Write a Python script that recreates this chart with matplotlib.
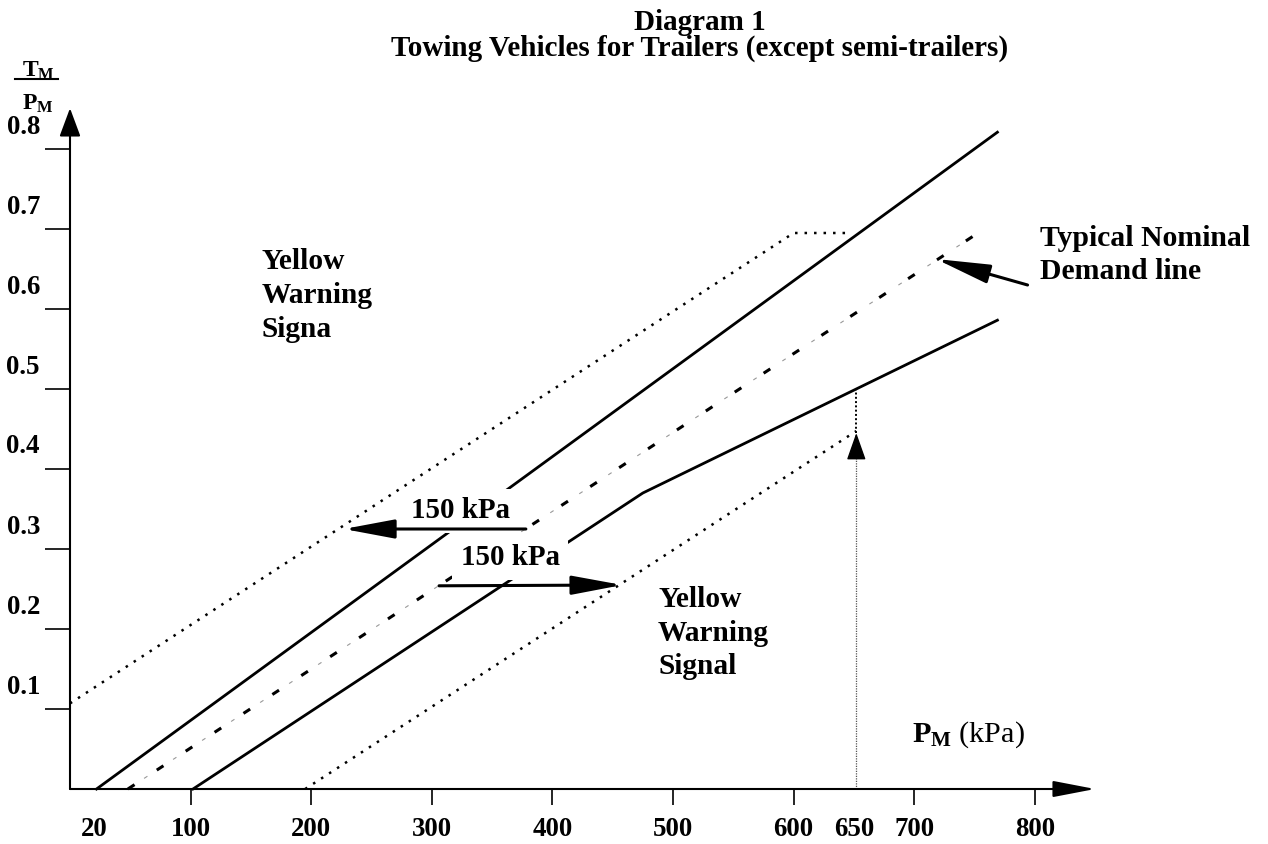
import matplotlib
matplotlib.use("Agg")
import matplotlib.pyplot as plt

plt.rcParams['font.family'] = ['Liberation Serif', 'DejaVu Serif']
plt.rcParams['mathtext.fontset'] = 'custom'
plt.rcParams['mathtext.rm'] = 'Liberation Serif'
plt.rcParams['mathtext.bf'] = 'Liberation Serif:bold'
plt.rcParams['mathtext.it'] = 'Liberation Serif:italic'

# ---------------- data (kPa, T_M/P_M ratio) ----------------
pm_ticks = [100, 200, 300, 400, 500, 600, 700, 800]
pm_labels = [20, 100, 200, 300, 400, 500, 600, 650, 700, 800]
ratio_ticks = [0.1, 0.2, 0.3, 0.4, 0.5, 0.6, 0.7, 0.8]
ratio_labels = ["0.1", "0.2", "0.3", "0.4", "0.5", "0.6", "0.7", "0.8"]

upper_solid_p = [22, 769]
upper_solid_r = [0.0, 0.821]
lower_solid_p = [102, 475, 769]
lower_solid_r = [0.0, 0.37, 0.586]
nominal_p = [48, 758]
nominal_r = [0.0, 0.70]
upper_dot_p = [0, 600, 648]
upper_dot_r = [0.107, 0.695, 0.695]
lower_dot_p = [195, 652]
lower_dot_r = [0.0, 0.4475]

marker_p = 652
marker_shaft_r = [0.0, 0.415]
marker_tip_r = 0.445
marker_top_r = 0.50

shift_left_from = (378, 0.325)
shift_left_to = (227, 0.325)
shift_right_from = (306, 0.254)
shift_right_to = (458, 0.255)
nominal_arrow_from = (794, 0.63)
nominal_arrow_to = (718, 0.6625)

x_axis_end = 850
y_axis_end = 0.851

# ---------------- figure ----------------
W, H = 1268, 844
fig = plt.figure(figsize=(W / 100, H / 100), dpi=100)
ax = fig.add_axes([0, 0, 1, 1])
# pixel layout: origin at (70, 789), 1.206 px per kPa, 800 px per unit ratio
ax.set_xlim((0 - 70) / 1.206, (W - 70) / 1.206)
ax.set_ylim((789 - H) / 800, 789 / 800)
for s in ax.spines.values():
    s.set_visible(False)
ax.spines['left'].set_position(('data', 0))
ax.spines['bottom'].set_position(('data', 0))
ax.set_xticks(pm_ticks)
ax.set_yticks(ratio_ticks)
ax.tick_params(axis='x', direction='out', length=11.5, width=1.2, labelbottom=False)
ax.tick_params(axis='y', direction='out', length=18, width=1.2, labelleft=False)

# axes with arrow heads
ax.annotate('', xy=(x_axis_end, 0), xytext=(0, 0),
            arrowprops=dict(arrowstyle='-|>,head_length=2.6,head_width=0.5',
                            mutation_scale=10, lw=1.5, color='black',
                            shrinkA=0, shrinkB=0), zorder=5)
ax.annotate('', xy=(0, y_axis_end), xytext=(0, 0),
            arrowprops=dict(arrowstyle='-|>,head_length=1.75,head_width=0.65',
                            mutation_scale=10, lw=1.5, color='black',
                            shrinkA=0, shrinkB=0), zorder=5)

# tick labels
bold = dict(fontweight='bold', color='black')
for v in pm_labels:
    ax.text(v, -0.05, str(v), ha='center', va='center', fontsize=19.4, **bold)
for v, lab in zip(ratio_ticks, ratio_labels):
    ax.text(-24.9, v + 0.0275, lab, ha='right', va='center', fontsize=19.4, **bold)

# lines
ax.plot(upper_solid_p, upper_solid_r, color='black', lw=2.0, zorder=2)
ax.plot(lower_solid_p, lower_solid_r, color='black', lw=2.0, zorder=2)
ax.plot(nominal_p, nominal_r, color='black', lw=2.2, ls=(0, (2.6, 8.7)), zorder=2)
ax.plot(nominal_p, nominal_r, color='#999999', lw=0.8, ls=(13.8, (3.6, 27.6)), zorder=2)
ax.plot(upper_dot_p, upper_dot_r, color='black', lw=1.8, ls=(0, (1, 2.8)), zorder=2)
ax.plot(lower_dot_p, lower_dot_r, color='black', lw=1.8, ls=(0, (1, 2.8)), zorder=2)

# 650 kPa marker
ax.plot([marker_p, marker_p], marker_shaft_r, color='#555555', lw=0.9, ls=(0, (1, 1)), zorder=2)
ax.plot([marker_p, marker_p], [marker_tip_r, marker_top_r], color='black', lw=1.4, ls=(0, (1, 1.2)), zorder=2)
ax.annotate('', xy=(marker_p, marker_tip_r), xytext=(marker_p, marker_shaft_r[1]),
            arrowprops=dict(arrowstyle='-|>,head_length=1.7,head_width=0.6',
                            mutation_scale=10, lw=1.0, color='black',
                            shrinkA=0, shrinkB=0), zorder=5)

# 150 kPa shift arrows and labels
for a, b in [(shift_left_from, shift_left_to), (shift_right_from, shift_right_to)]:
    ax.annotate('', xy=b, xytext=a,
                arrowprops=dict(arrowstyle='-|>,head_length=3.1,head_width=0.58',
                                mutation_scale=10, lw=2.2, color='black',
                                shrinkA=0, shrinkB=0), zorder=6)
box = dict(facecolor='white', edgecolor='none', boxstyle='square,pad=0.3')
ax.text(324, 0.3475, '150 kPa', ha='center', va='center', fontsize=20.9, bbox=box, zorder=4, **bold)
ax.text(365, 0.289, '150 kPa', ha='center', va='center', fontsize=20.9, bbox=box, zorder=4, **bold)

# nominal demand arrow
ax.annotate('', xy=nominal_arrow_to, xytext=nominal_arrow_from,
            arrowprops=dict(arrowstyle='-|>,head_length=3.3,head_width=0.58',
                            mutation_scale=10, lw=2.2, color='black',
                            shrinkA=0, shrinkB=0), zorder=6)

# annotations
ax.text(804, 0.705, 'Typical Nominal\nDemand line', ha='left', va='top',
        fontsize=21.4, linespacing=1.27, **bold)
ax.text(159, 0.676, 'Yellow\nWarning\nSigna', ha='left', va='top',
        fontsize=21.2, linespacing=1.32, **bold)
ax.text(487.6, 0.254, 'Yellow\nWarning\nSignal', ha='left', va='top',
        fontsize=21.2, linespacing=1.32, **bold)

# axis titles
ax.text(698, 0.05875, r'$\mathbf{P_M}$ (kPa)', ha='left', va='baseline', fontsize=21.7, color='black')
ax.text(-26.5, 0.891, r'$\mathbf{T_M}$', ha='center', va='baseline', fontsize=17, color='black')
ax.plot([-46, -10], [0.8875, 0.8875], color='black', lw=1.5, clip_on=False)
ax.text(-26.5, 0.849, r'$\mathbf{P_M}$', ha='center', va='baseline', fontsize=17, color='black')

# title
ax.text(522, 0.94875, 'Diagram 1', ha='center', va='baseline', fontsize=21, **bold)
ax.text(522, 0.91625, 'Towing Vehicles for Trailers (except semi-trailers)', ha='center',
        va='baseline', fontsize=21, **bold)

fig.savefig('out.png', dpi=100, facecolor='white')
